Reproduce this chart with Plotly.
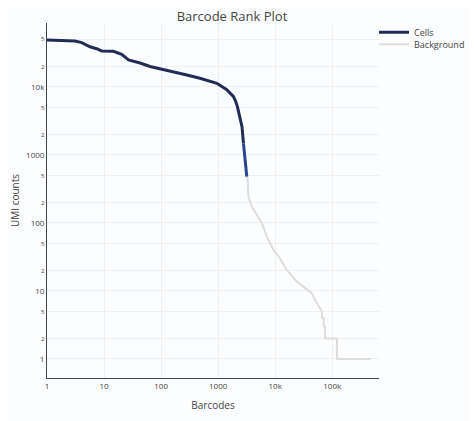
import plotly.graph_objects as go

# Cells (barcode rank, UMI counts)
cells_x = [1, 3.1, 4.06, 5.68, 7.4, 9.1, 14.6, 20.4, 26.8, 42.8, 64, 165, 283, 480, 950, 1420, 1860, 2050, 2180, 2620, 2780]
cells_y = [48900, 47400, 44900, 39000, 36500, 33800, 33500, 30200, 25000, 22500, 20000, 16900, 15000, 13400, 11300, 9100, 7200, 6000, 5100, 2600, 1480]

# Tail of the cell region (slightly bluer)
mixed_x = [2780, 2970, 3180]
mixed_y = [1480, 846, 480]

# Background barcodes
bg_x = [3180, 3310, 3390, 3890, 4770, 5850, 7140, 9350, 12200, 15900, 24000, 36000, 44000, 50000,
        57000, 66000, 66000, 71000, 71000, 75000, 75000, 81000, 121000, 121000, 480000]
bg_y = [480, 429, 245, 174, 131, 99, 63, 40, 30, 20.4, 13.7, 10.3, 9.2, 7.4,
        6.2, 5, 4, 4, 3, 3, 2, 2, 2, 1, 1]

fig = go.Figure()
fig.add_trace(go.Scatter(x=bg_x, y=bg_y, mode="lines", name="Background", legend="legend2",
                         line=dict(color="#dddddd", width=2)))
fig.add_trace(go.Scatter(x=cells_x, y=cells_y, mode="lines", name="Cells", legend="legend",
                         line=dict(color="#222d55", width=3)))
fig.add_trace(go.Scatter(x=mixed_x, y=mixed_y, mode="lines", showlegend=False,
                         line=dict(color="#2b4690", width=3)))

leg_common = dict(xanchor="left", yanchor="middle", font=dict(size=9, color="#444"),
                  bgcolor="rgba(0,0,0,0)", borderwidth=0)

W, H = 466, 413
fig.update_layout(
    width=W, height=H,
    margin=dict(l=39, r=95, t=15, b=43, autoexpand=False),
    paper_bgcolor="#fcfdfe", plot_bgcolor="#fcfdfe",
    font=dict(family="Open Sans, sans-serif", color="#444"),
    title=dict(text="Barcode Rank Plot", x=224 / W, xanchor="center", y=1 - 4 / H, yanchor="top",
               pad=dict(t=0, b=0), font=dict(size=13, color="#444")),
    legend=dict(x=0.985, y=1 - (32.3 - 23) / 355, **leg_common),
    legend2=dict(x=0.985, y=1 - (44.3 - 23) / 355, **leg_common),
    xaxis=dict(type="log", range=[0, 5.82], dtick=1, showline=True, linecolor="#444", linewidth=1,
               gridcolor="#f0f0f0", zeroline=False, tickfont=dict(size=8), automargin=False,
               title=dict(text="Barcodes", font=dict(size=10), standoff=12)),
    yaxis=dict(type="log", range=[-0.28, 4.94], dtick="D2", showline=True, linecolor="#444", linewidth=1,
               gridcolor="#f0f0f0", zeroline=False, tickfont=dict(size=8), automargin=False,
               title=dict(text="UMI counts", font=dict(size=10), standoff=8)),
)

fig.write_html("out.html")
